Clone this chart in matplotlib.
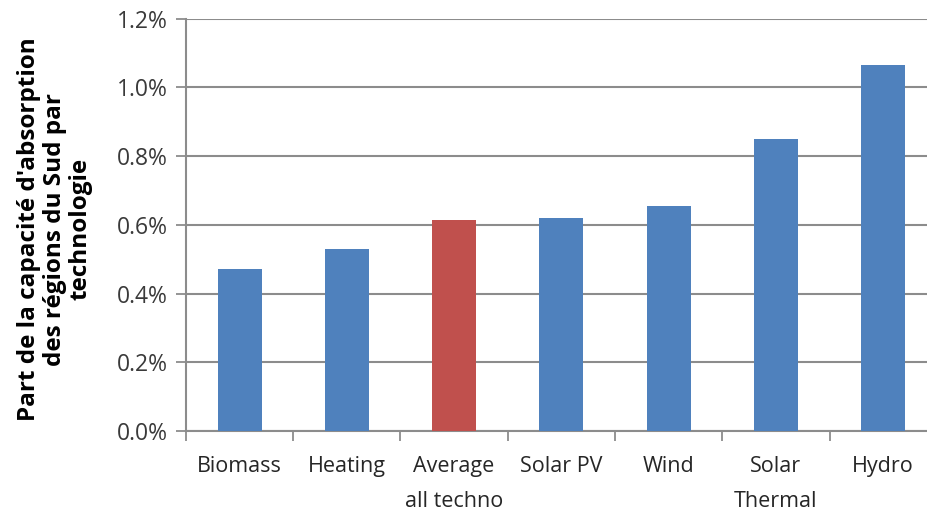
import numpy as np
import matplotlib.pyplot as plt
from matplotlib.ticker import FuncFormatter, FixedLocator

categories = ["Biomass", "Heating", "Average\nall techno", "Solar PV", "Wind", "Solar\nThermal", "Hydro"]
shares = [0.0047, 0.0053, 0.00615, 0.0062, 0.00655, 0.0085, 0.01065]
bar_colors = ["#4F81BD", "#4F81BD", "#C0504D", "#4F81BD", "#4F81BD", "#4F81BD", "#4F81BD"]
ylabel = "Part de la capacité d'absorption\ndes régions du Sud par\ntechnologie"

plt.rcParams['font.family'] = ['Open Sans', 'DejaVu Sans']

fig = plt.figure(figsize=(9.27, 5.23), dpi=100)
# axes run slightly past the right border, like the original export
ax = fig.add_axes([0.2006, 0.1759, 0.810, 0.7887])

x = np.arange(len(categories))
ax.bar(x, shares, width=0.41, color=bar_colors, zorder=3)

ax.set_ylim(0, 0.012)
ax.set_xlim(-0.5, len(categories) - 0.5)
ax.set_yticks(np.arange(0, 0.0121, 0.002))
ax.yaxis.set_major_formatter(FuncFormatter(lambda v, p: "{:.1f}%".format(v * 100)))
ax.grid(axis="y", color="#8c8c8c", linewidth=1.5, zorder=0)

# category labels in the middle, tick marks on the boundaries
ax.set_xticks(x)
ax.set_xticklabels(categories, linespacing=1.85)
ax.xaxis.set_minor_locator(FixedLocator(np.arange(-0.5, len(categories), 1.0)))
ax.tick_params(axis="x", which="major", length=0, pad=18, labelsize=15.5, labelcolor="#262626")
ax.tick_params(axis="x", which="minor", length=7, width=1.3, color="#8c8c8c")
ax.tick_params(axis="y", length=7, width=1.3, color="#8c8c8c", labelsize=16.5,
               labelcolor="#3a3a3a", pad=6)

for side in ["top", "right"]:
    ax.spines[side].set_visible(False)
for side in ["left", "bottom"]:
    ax.spines[side].set_color("#8c8c8c")
    ax.spines[side].set_linewidth(1.5)

fig.text(0.059, 0.562, ylabel, rotation=90, ha="center", va="center", multialignment="center",
         fontsize=17.5, fontweight="bold", linespacing=1.1)

fig.savefig("out.png", dpi=100)
